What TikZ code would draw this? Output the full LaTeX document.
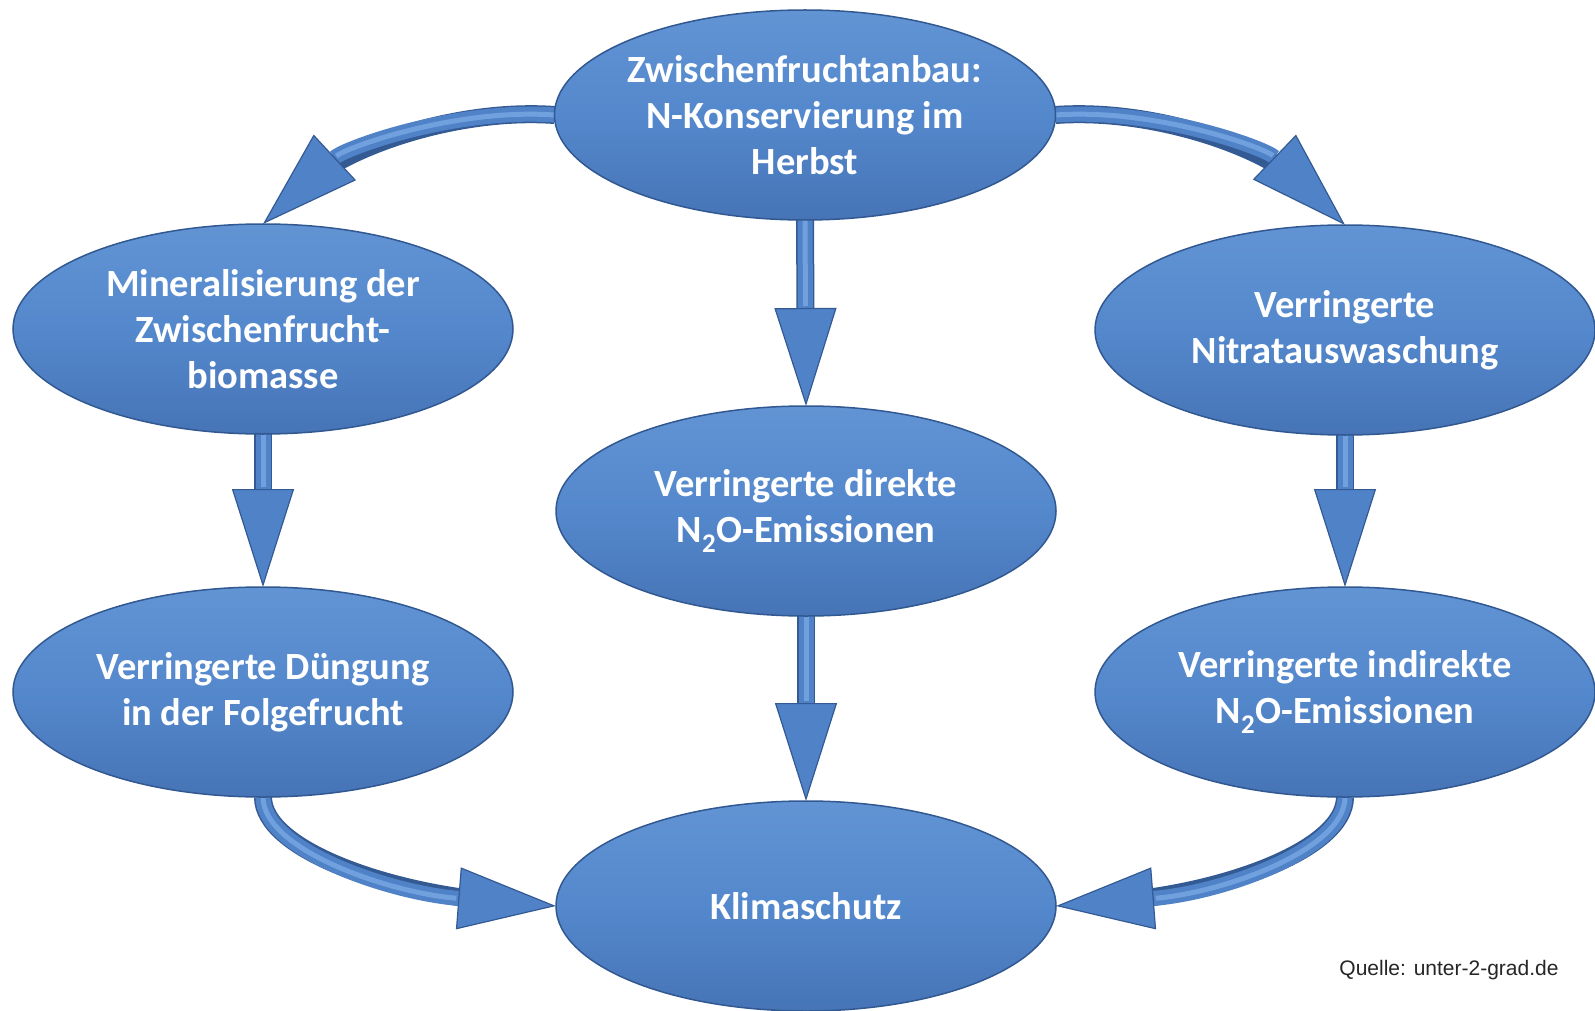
\documentclass[tikz,border=0pt]{standalone}
\usepackage{fontspec}
\setmainfont{Carlito}
\newfontfamily\srcfont{Liberation Sans}
\usetikzlibrary{shapes.geometric,arrows.meta,backgrounds}
\definecolor{ellmid}{RGB}{84,136,204}
\definecolor{elltop}{RGB}{98,148,212}
\definecolor{ellbot}{RGB}{70,116,182}
\definecolor{ellrim}{RGB}{50,88,145}
\definecolor{arrblue}{RGB}{80,130,200}
\definecolor{arrdark}{RGB}{52,90,148}
\definecolor{arrlight}{RGB}{112,160,222}
\tikzset{
  ell/.style={ellipse, minimum width=500pt, minimum height=210pt, inner sep=0pt, outer sep=0pt,
    top color=elltop, bottom color=ellbot, middle color=ellmid, draw=ellrim, line width=1.5pt,
    text=white, font=\bfseries\fontsize{38.5}{46}\selectfont, align=center},
  flow/.style={draw=arrblue, line width=15pt,
    -{Triangle[width=62pt,length=98pt,line width=1.2pt,fill=arrblue,color=arrdark]},
    preaction={draw=arrdark, line width=18pt, arrows=-, shorten >=60pt},
    postaction={draw=arrlight, line width=5pt, arrows=-, shorten >=100pt}},
  srcstyle/.style={font=\srcfont\fontsize{21}{25}\selectfont, text=black!85, inner sep=0pt}
}
\begin{document}
\begin{tikzpicture}[x=1pt,y=-1pt]
\useasboundingbox (0,0) rectangle (1595,1011);
\node[ell] (top) at (805,115) {Zwischenfruchtanbau:\\N-Konservierung im\\Herbst};
\node[ell] (minl) at (263,329) {Mineralisierung der\\Zwischenfrucht-\\biomasse};
\node[ell] (nitr) at (1345,330) {Verringerte\\Nitratauswaschung};
\node[ell] (dir) at (806,511) {Verringerte direkte\\N\textsubscript{2}O-Emissionen};
\node[ell] (dueng) at (263,692) {Verringerte Düngung\\in der Folgefrucht};
\node[ell] (indir) at (1345,692) {Verringerte indirekte\\N\textsubscript{2}O-Emissionen};
\node[ell] (klima) at (806,906) {Klimaschutz};
\node[srcstyle] (src) at (1449,970) {Quelle: unter-2-grad.de};
\begin{scope}[on background layer]
\fill[white] (0,0) rectangle (1595,1011);
\draw[flow] (top.south) -- (dir.north);
\draw[flow] (dir.south) -- (klima.north);
\draw[flow] (minl.south) -- (dueng.north);
\draw[flow] (nitr.south) -- (indir.north);
\draw[flow] (top.west) .. controls (455,108) and (345,148) .. (minl.north);
\draw[flow] (top.east) .. controls (1155,108) and (1265,148) .. (nitr.north);
\draw[flow] (dueng.south) .. controls (263,850) and (390,893) .. (klima.west);
\draw[flow] (indir.south) .. controls (1345,850) and (1222,893) .. (klima.east);
\end{scope}
\end{tikzpicture}
\end{document}
